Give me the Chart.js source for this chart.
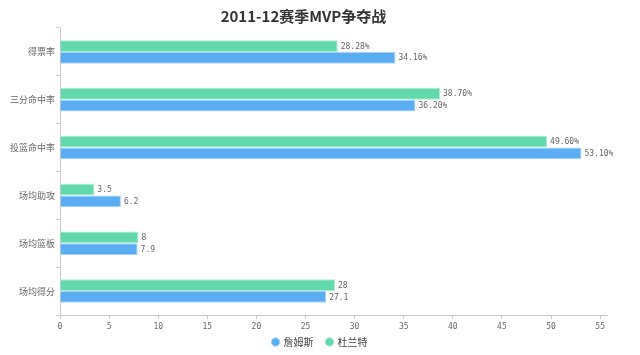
<!DOCTYPE html>
<html>
<head>
<meta charset="utf-8">
<script src="https://cdn.jsdelivr.net/npm/chart.js@4/dist/chart.umd.min.js"></script>
<style>
html,body{margin:0;padding:0;background:#fff;}
#wrap{width:640px;height:355px;}
</style>
</head>
<body>
<div id="wrap"><canvas id="c" width="640" height="355"></canvas></div>
<script>
const titleText = '2011-12赛季MVP争夺战';
const categories = ['得票率', '三分命中率', '投篮命中率', '场均助攻', '场均篮板', '场均得分'];
const seriesNames = ['詹姆斯', '杜兰特'];
const jamesValues = [34.16, 36.20, 53.10, 6.2, 7.9, 27.1];
const durantValues = [28.28, 38.70, 49.60, 3.5, 8, 28];
const jamesLabels = ['34.16%', '36.20%', '53.10%', '6.2', '7.9', '27.1'];
const durantLabels = ['28.28%', '38.70%', '49.60%', '3.5', '8', '28'];
const xTicks = [0, 5, 10, 15, 20, 25, 30, 35, 40, 45, 50, 55];
const xMax = 55.7;

const FONT = "'Noto Sans CJK SC', 'Noto Sans', sans-serif";
const MONO = "'DejaVu Sans Mono', 'Liberation Mono', monospace";

const valueLabelPlugin = {
  id: 'valueLabels',
  beforeLayout(chart) {
    const lg = chart.legend;
    if (lg && !lg._fitPatched) {
      const origFit = lg.fit.bind(lg);
      lg.fit = function () {
        origFit();
        this.height = 22;
      };
      lg._fitPatched = true;
    }
  },
  afterLayout(chart) {
    const lg = chart.legend;
    if (lg) {
      lg.left = 0;
      lg.right = chart.width;
      lg.width = chart.width;
      lg.top = 324;
      lg.bottom = chart.height;
      lg.height = chart.height - 324;
      if (typeof lg.adjustHitBoxes === 'function') lg.adjustHitBoxes();
    }
  },
  afterDatasetsDraw(chart) {
    const ctx = chart.ctx;
    ctx.save();
    ctx.font = '8px ' + MONO;
    ctx.fillStyle = '#666';
    ctx.textAlign = 'left';
    ctx.textBaseline = 'middle';
    chart.data.datasets.forEach((ds, i) => {
      const meta = chart.getDatasetMeta(i);
      meta.data.forEach((bar, j) => {
        ctx.fillText(ds.valueLabels[j], bar.x + 3, bar.y + 0.5);
      });
    });
    ctx.restore();
  }
};

new Chart(document.getElementById('c'), {
  type: 'bar',
  data: {
    labels: categories,
    datasets: [
      {
        label: seriesNames[1],
        data: durantValues,
        valueLabels: durantLabels,
        backgroundColor: '#62d9aa',
        borderColor: '#a9ecd2',
        borderWidth: 1,
        borderSkipped: 'start'
      },
      {
        label: seriesNames[0],
        data: jamesValues,
        valueLabels: jamesLabels,
        backgroundColor: '#5aadf2',
        borderColor: '#a6d3f8',
        borderWidth: 1,
        borderSkipped: 'start'
      }
    ]
  },
  options: {
    indexAxis: 'y',
    responsive: false,
    animation: false,
    layout: { padding: { left: 0, right: 33, top: 0, bottom: 0 } },
    categoryPercentage: 0.49,
    barPercentage: 1.0,
    scales: {
      x: {
        min: 0,
        max: xMax,
        afterBuildTicks(scale) {
          scale.ticks = xTicks.map(v => ({ value: v }));
        },
        afterFit(scale) { scale.height = 18; },
        grid: {
          drawOnChartArea: false,
          drawTicks: true,
          tickLength: 4,
          color: '#ccc'
        },
        border: { color: '#ccc' },
        ticks: {
          font: { family: MONO, size: 8 },
          color: '#666',
          padding: 3,
          maxRotation: 0
        }
      },
      y: {
        afterFit(scale) { scale.width = 60; },
        grid: {
          drawOnChartArea: false,
          tickLength: 4,
          color: '#ccc',
          offset: true
        },
        border: { color: '#ccc' },
        ticks: {
          font: { family: FONT, size: 9 },
          color: '#666',
          padding: 1
        }
      }
    },
    plugins: {
      title: {
        display: true,
        text: titleText,
        color: '#333',
        font: { family: FONT, size: 15, weight: 'bold', lineHeight: 1.2 },
        padding: { top: 7, bottom: 3 }
      },
      legend: {
        display: true,
        position: 'bottom',
        reverse: true,
        labels: {
          usePointStyle: true,
          pointStyle: 'circle',
          boxWidth: 6,
          boxHeight: 6,
          padding: 13,
          color: '#444',
          font: { family: FONT, size: 10 }
        }
      },
      tooltip: { enabled: false }
    }
  },
  plugins: [valueLabelPlugin]
});
</script>
</body>
</html>
